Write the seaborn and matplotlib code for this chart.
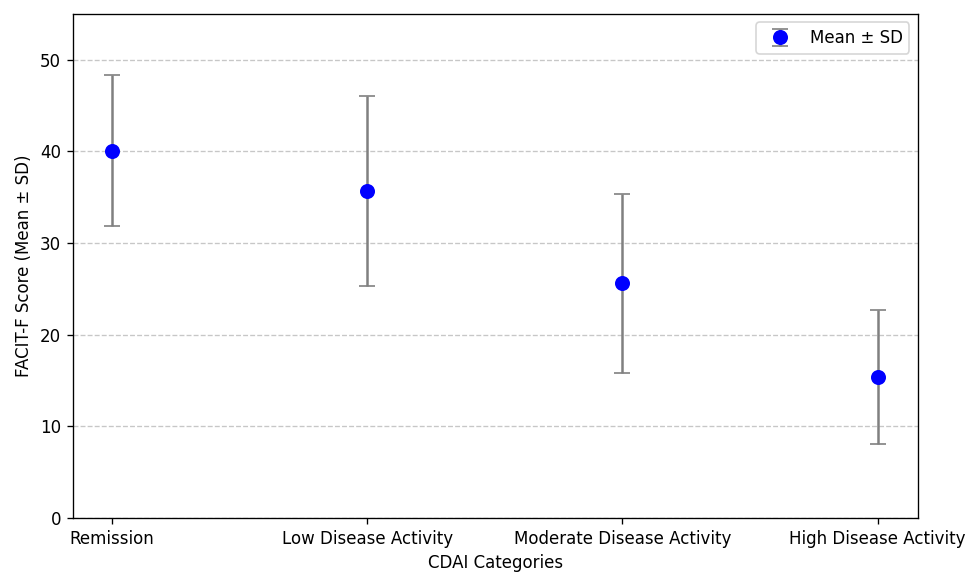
import matplotlib
matplotlib.use("Agg")
import matplotlib.pyplot as plt
import seaborn as sns
import pandas as pd

categories = ["Remission", "Low Disease Activity", "Moderate Disease Activity", "High Disease Activity"]
mean_scores = [40.1, 35.7, 25.6, 15.4]
sd_scores = [8.2, 10.4, 9.8, 7.3]

df = pd.DataFrame({"category": categories, "mean": mean_scores, "sd": sd_scores})

sns.reset_defaults()
plt.rcParams["font.family"] = ["DejaVu Sans"]

DPI = 120
fig, ax = plt.subplots(figsize=(971 / DPI, 572 / DPI), dpi=DPI)
fig.subplots_adjust(left=0.075, right=0.945, top=0.9755, bottom=0.0944)

ax.errorbar(df["category"], df["mean"], yerr=df["sd"], fmt="o", color="blue",
            ecolor="gray", elinewidth=1.5, capsize=5, markersize=8,
            label="Mean \u00b1 SD")

ax.set_xlim(-0.153, 3.157)
ax.set_ylim(0, 55)
ax.set_xlabel("CDAI Categories")
ax.set_ylabel("FACIT-F Score (Mean \u00b1 SD)")
ax.yaxis.grid(True, linestyle="--", alpha=0.7)
ax.legend(loc="upper right")

fig.savefig("out.png", dpi=DPI)
